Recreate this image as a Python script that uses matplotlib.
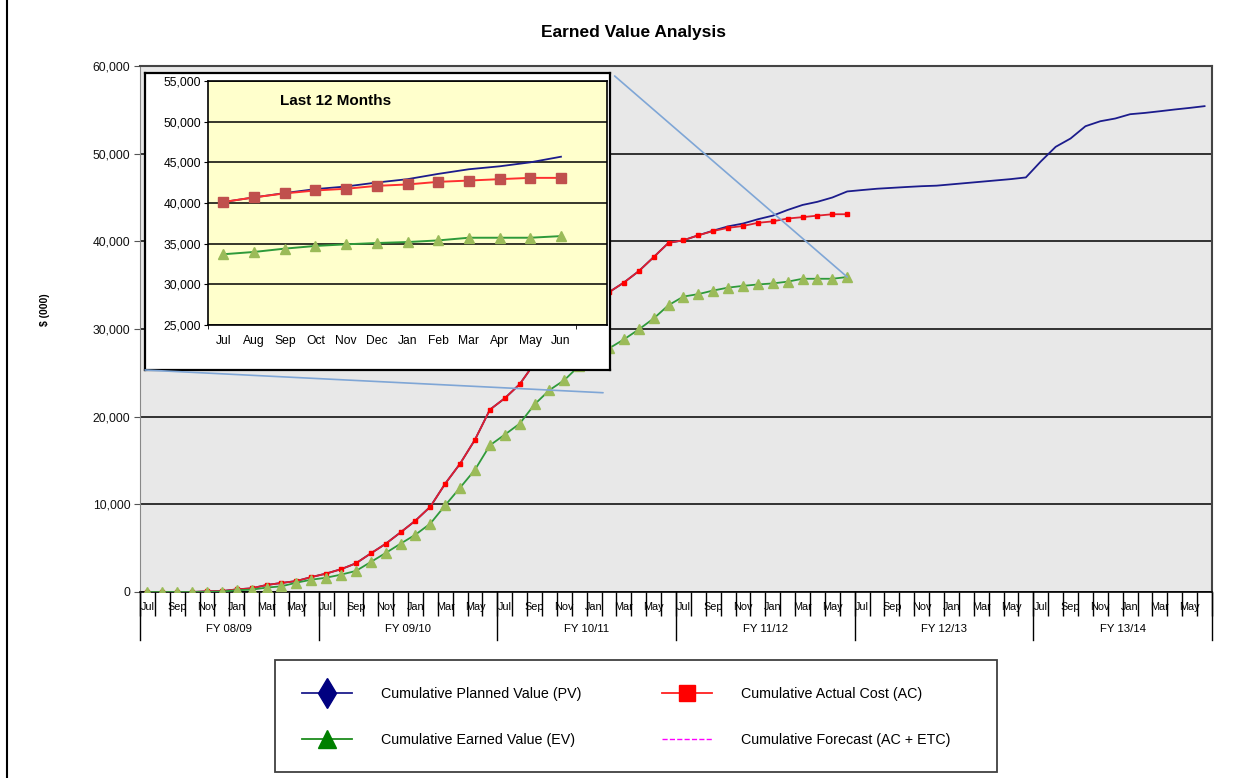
import numpy as np
import matplotlib
matplotlib.use("Agg")
import matplotlib.pyplot as plt
from matplotlib.lines import Line2D
from matplotlib.patches import Rectangle, ConnectionPatch

plt.rcParams['font.family'] = ['Liberation Sans', 'DejaVu Sans']

# Данные (значения в тыс. $), месяцы с Jul 08 по Jun 14
months = ['Jul', 'Aug', 'Sep', 'Oct', 'Nov', 'Dec', 'Jan', 'Feb', 'Mar', 'Apr', 'May', 'Jun']
fy_labels = ['FY 08/09', 'FY 09/10', 'FY 10/11', 'FY 11/12', 'FY 12/13', 'FY 13/14']

ac_values = [0, 0, 0, 0, 80, 100, 300, 420, 800, 1030, 1250, 1700,
             2100, 2600, 3270, 4400, 5500, 6800, 8140, 9730, 12360, 14640, 17380, 20800,
             22100, 23700, 26100, 27900, 29600, 31200, 32800, 34200, 35300, 36600, 38200, 39830,
             40120, 40690, 41180, 41540, 41750, 42110, 42280, 42600, 42760, 42930, 43090, 43090]

ev_values = [0, 0, 0, 0, 0, 50, 200, 270, 500, 650, 1060, 1400,
             1630, 1980, 2400, 3420, 4450, 5510, 6540, 7800, 9890, 11900, 13950, 16730,
             17950, 19200, 21400, 23030, 24170, 25800, 26900, 27790, 28810, 29950, 31200, 32720,
             33700, 33980, 34390, 34720, 34920, 35080, 35200, 35400, 35730, 35730, 35730, 35930]

pv_values = [0, 0, 0, 0, 80, 100, 300, 420, 800, 1030, 1250, 1700,
             2100, 2600, 3270, 4400, 5500, 6800, 8140, 9730, 12360, 14640, 17380, 20800,
             22100, 23700, 26100, 27900, 29600, 31200, 32800, 34200, 35300, 36600, 38200, 39830,
             40120, 40690, 41220, 41710, 42030, 42520, 42930, 43580, 44150, 44510, 45000, 45690,
             45850, 46000, 46100, 46200, 46290, 46350, 46500, 46650, 46800, 46950, 47100, 47290,
             49110, 50780, 51730, 53130, 53700, 54010, 54500, 54650, 54840, 55040, 55220, 55420]

# последние 12 месяцев (FY 11/12)
last_ac = ac_values[36:48]
last_ev = ev_values[36:48]
last_pv = pv_values[36:48]

W, H = 1246, 778
fig = plt.figure(figsize=(W / 100, H / 100), dpi=100)

def fig_rect(x0, y0, x1, y1):  # пиксели -> доли фигуры
    return [x0 / W, 1 - y1 / H, (x1 - x0) / W, (y1 - y0) / H]

# Основной график
ax = fig.add_axes(fig_rect(140, 66, 1212, 592))
ax.set_facecolor('#E8E8E8')
n_all = len(pv_values)
x_pv = np.arange(n_all)
x_ac = np.arange(len(ac_values))

ax.plot(x_pv, pv_values, color='#1C1C8C', lw=1.3, zorder=3)
ax.plot(x_ac, ac_values, color='#E0202E', lw=1.3, marker='s', ms=3.4,
        mfc='#FF0000', mec='#FF0000', zorder=4)
ax.plot(x_ac, ev_values, color='#2E9A3A', lw=1.3, marker='^', ms=7.5,
        mfc='#9BBB59', mec='#9BBB59', zorder=5)

ax.set_xlim(-0.5, n_all - 0.5)
ax.set_ylim(0, 60000)
ax.set_yticks(np.arange(0, 60001, 10000))
ax.set_yticklabels([f'{v:,.0f}' for v in np.arange(0, 60001, 10000)])
ax.yaxis.grid(True, color='black', lw=1.1)
ax.set_axisbelow(True)
ax.tick_params(axis='y', length=4, labelsize=8.7, pad=3, colors='#555555', labelcolor='#111111')

ax.set_xticks(np.arange(0, n_all, 2))
ax.set_xticklabels([months[i % 12] for i in range(0, n_all, 2)])
ax.set_xticks(np.arange(-0.5, n_all, 1), minor=True)
ax.tick_params(axis='x', which='major', length=0, labelsize=7.8, pad=7)
ax.tick_params(axis='x', which='minor', length=17.5, width=1, color='black')

for k, lab in enumerate(fy_labels):
    ax.text(12 * k + 5.5, -0.071, lab, transform=ax.get_xaxis_transform(),
            ha='center', va='center', fontsize=8.2)
for k in range(len(fy_labels) + 1):
    ax.axvline(12 * k - 0.5, ymin=-0.092, ymax=0, clip_on=False, color='black', lw=1)

for s in ['top', 'right']:
    ax.spines[s].set_color('#444444')
    ax.spines[s].set_linewidth(1.5)
ax.spines['left'].set_color('#888888')
ax.spines['bottom'].set_color('black')
ax.spines['bottom'].set_linewidth(1.2)

# Вставка "Last 12 Months"
frame = fig.add_axes(fig_rect(145, 73, 610, 370))
frame.set_xticks([])
frame.set_yticks([])
frame.set_facecolor('white')
for s in frame.spines.values():
    s.set_color('black')
    s.set_linewidth(1.6)

ins = fig.add_axes(fig_rect(208, 81, 607, 325))
ins.set_facecolor('#FFFFCC')
xi = np.arange(len(last_ac))
ins.plot(xi, last_pv, color='#1C1C8C', lw=1.3, zorder=3)
ins.plot(xi, last_ac, color='#FF3030', lw=1.4, marker='s', ms=7,
         mfc='#C0504D', mec='#C0504D', zorder=4)
ins.plot(xi, last_ev, color='#2E9A3A', lw=1.4, marker='^', ms=7.5,
         mfc='#9BBB59', mec='#9BBB59', zorder=5)
ins.set_xlim(-0.5, 12.5)
ins.set_ylim(25000, 55000)
ins.set_yticks(np.arange(25000, 55001, 5000))
ins.set_yticklabels([f'{v:,.0f}' for v in np.arange(25000, 55001, 5000)])
ins.yaxis.grid(True, color='black', lw=1.1)
ins.set_axisbelow(True)
ins.tick_params(axis='y', length=3, labelsize=8.7, pad=2)
ins.set_xticks(xi)
ins.set_xticklabels(months)
ins.set_xticks([-0.5, 11.5], minor=True)
ins.tick_params(axis='x', which='major', length=0, labelsize=8.7, pad=7)
ins.tick_params(axis='x', which='minor', length=3)
for s in ins.spines.values():
    s.set_color('black')
    s.set_linewidth(1.2)
ins.text(0.18, 0.92, 'Last 12 Months', transform=ins.transAxes,
         fontsize=11, fontweight='bold', va='center', ha='left')

# Линии-выноски от вставки к основному графику
for xy_a, xy_b in [((1.01, 0.99), (len(ev_values) - 1, ev_values[-1])),
                   ((0.0, 0.0), (30.6, 22730))]:
    con = ConnectionPatch(xyA=xy_a, coordsA=frame.transAxes, xyB=xy_b, coordsB=ax.transData,
                          color='#7FA6D6', lw=1.2, zorder=10)
    fig.add_artist(con)

# Заголовок и подпись оси
fig.text(633 / W, 1 - 33 / H, 'Earned Value Analysis', ha='center', va='center',
         fontsize=12.5, fontweight='bold')
fig.text(45 / W, 1 - 310 / H, '$ (000)', rotation=90, ha='center', va='center',
         fontsize=7.5, fontweight='bold')

# Рамка слева
fig.add_artist(Line2D([7 / W, 7 / W], [0, 1], color='black', lw=1.5, transform=fig.transFigure))

# Легенда
fig.patches.append(Rectangle((275 / W, 1 - 772 / H), 722 / W, 112 / H, transform=fig.transFigure,
                             fill=False, edgecolor='#404040', lw=1.3))
h_pv = Line2D([], [], color='#1C1C8C', lw=1.3, marker='d', ms=15, mfc='#000080', mec='#000080')
h_ev = Line2D([], [], color='#1E8C1E', lw=1.3, marker='^', ms=13, mfc='#008000', mec='#008000')
h_ac = Line2D([], [], color='#FF2020', lw=1.3, marker='s', ms=11, mfc='#FF0000', mec='#FF0000')
h_fc = Line2D([], [], color='#FF00FF', lw=1.0, ls='--')
leg_kw = dict(loc='upper left', frameon=False, borderpad=0, handlelength=3.5,
              handletextpad=2.0, labelspacing=2.2, fontsize=10.3)
leg1 = fig.legend([h_pv, h_ev], ['Cumulative Planned Value (PV)', 'Cumulative Earned Value (EV)'],
                  bbox_to_anchor=(295 / W, 1 - 680 / H), **leg_kw)
leg2 = fig.legend([h_ac, h_fc], ['Cumulative Actual Cost (AC)', 'Cumulative Forecast (AC + ETC)'],
                  bbox_to_anchor=(655 / W, 1 - 680 / H), **leg_kw)

fig.savefig('out.png', dpi=100)
